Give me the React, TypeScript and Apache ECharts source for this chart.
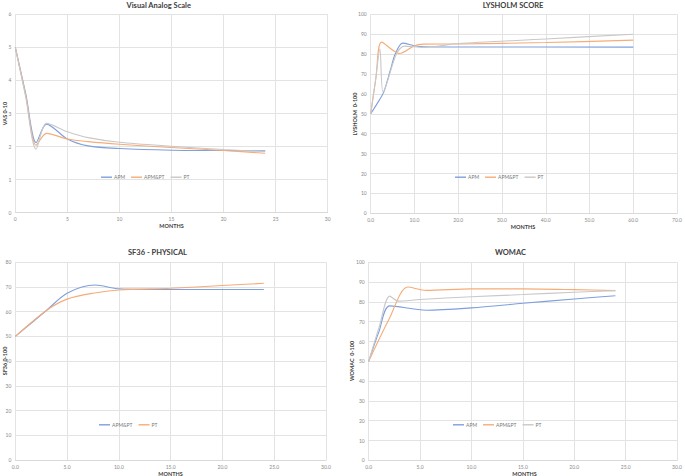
import React, { useEffect, useRef } from "react";
import * as echarts from "echarts";

// ---------- data ----------
const vasApm = [[0, 5], [1, 3.6], [2, 2.12], [3, 2.68], [5, 2.23], [7, 2.02], [10, 1.94], [15, 1.89], [20, 1.88], [24, 1.87]];
const vasApmPt = [[0, 5], [1, 3.55], [2, 2.04], [3, 2.4], [5, 2.23], [7, 2.15], [10, 2.07], [15, 1.97], [20, 1.88], [24, 1.8]];
const vasPt = [[0, 5], [1, 3.5], [2, 1.92], [3, 2.7], [5, 2.45], [7, 2.27], [10, 2.13], [15, 2.01], [20, 1.91], [24, 1.85]];

const lysApm = [[0, 50], [2, 57], [3, 61], [4.5, 72], [5.6, 80], [7.3, 85.5], [10, 84.2], [12, 83.7], [20, 83.6], [60, 83.5]];
const lysApmPt = [[0, 50], [1.2, 68], [2.5, 86], [6.6, 80.3], [10, 84.2], [12, 85], [20, 85.1], [40, 85.8], [60, 87]];
const lysPt = [[0, 50], [1.1, 67], [2.1, 82.5], [2.85, 61], [5.9, 80.3], [7.7, 84], [12, 83.3], [20, 85.3], [40, 87.6], [60, 90]];

const sfApmPt = [[0, 50], [3, 60.5], [5, 67.5], [7.7, 70.8], [10, 69.3], [15, 69], [20, 69], [24, 69]];
const sfPt = [[0, 50], [3, 60.5], [5, 65.1], [7.5, 67.5], [10, 68.8], [15, 69.5], [20, 70.6], [24, 71.5]];

const womApm = [[0, 50], [1, 65], [2.05, 78], [5.6, 75.8], [10, 77], [15, 79.3], [20, 81.5], [24, 83.1]];
const womApmPt = [[0, 50], [2, 71.5], [3.8, 87.5], [5.6, 85.8], [10, 86.6], [15, 86.6], [20, 86.2], [24, 85.7]];
const womPt = [[0, 50], [1, 67], [2.05, 82.9], [2.9, 80.4], [5, 81.2], [10, 82.6], [15, 83.7], [20, 84.9], [24, 85.7]];

// ---------- tick labels ----------
const vasXTicks = ["0", "5", "10", "15", "20", "25", "30"];
const vasYTicks = ["0", "1", "2", "3", "4", "5", "6"];
const lysXTicks = ["0.0", "10.0", "20.0", "30.0", "40.0", "50.0", "60.0", "70.0"];
const lysYTicks = ["0", "10", "20", "30", "40", "50", "60", "70", "80", "90", "100"];
const sfXTicks = ["0.0", "5.0", "10.0", "15.0", "20.0", "25.0", "30.0"];
const sfYTicks = ["0", "10", "20", "30", "40", "50", "60", "70", "80"];
const womXTicks = ["0.0", "5.0", "10.0", "15.0", "20.0", "25.0", "30.0"];
const womYTicks = ["0", "10", "20", "30", "40", "50", "60", "70", "80", "90", "100"];

const BLUE = "#7F9FDD";
const ORANGE = "#F5AC78";
const GRAY = "#C8C8C8";
const FONT = "Lato, 'Open Sans', sans-serif";
const GRID_C = "#e3e3e3";
const LABEL_C = "#8a8a8a";
const TITLE_C = "#404040";

function makeOption(cfg: any) {
  const series = cfg.series.map((s: any) => ({
    type: "line",
    name: s.name,
    data: s.data,
    smooth: 0.3,
    showSymbol: false,
    symbol: "none",
    lineStyle: { color: s.color, width: 1.1 },
    itemStyle: { color: s.color },
  }));
  return {
    animation: false,
    textStyle: { fontFamily: FONT },
    grid: { left: cfg.grid[0], top: cfg.grid[1], width: cfg.grid[2], height: cfg.grid[3], containLabel: false },
    xAxis: {
      type: "value",
      min: 0,
      max: cfg.xMax,
      interval: cfg.xInt,
      axisLine: { show: true, lineStyle: { color: "#d9d9d9" } },
      axisTick: { show: false },
      splitLine: { show: true, lineStyle: { color: GRID_C, width: 1 } },
      axisLabel: {
        fontSize: 5,
        color: LABEL_C,
        margin: 4,
        fontFamily: FONT,
        showMaxLabel: true,
        formatter: (v: number) => cfg.xTicks[Math.round(v / cfg.xInt)] ?? "",
      },
    },
    yAxis: {
      type: "value",
      min: 0,
      max: cfg.yMax,
      interval: cfg.yInt,
      axisLine: { show: false },
      axisTick: { show: false },
      splitLine: { show: true, lineStyle: { color: GRID_C, width: 1 } },
      axisLabel: {
        fontSize: 5,
        color: LABEL_C,
        margin: 4,
        fontFamily: FONT,
        formatter: (v: number) => cfg.yTicks[Math.round(v / cfg.yInt)] ?? "",
      },
    },
    legend: {
      left: cfg.legend[0],
      top: cfg.legend[1] - 3,
      icon: "rect",
      itemWidth: 11,
      itemHeight: 1.4,
      itemGap: 6,
      textStyle: { fontSize: 5, color: "#7a7a7a", fontFamily: FONT, padding: [0, 0, 0, -3] },
      data: cfg.series.map((s: any) => s.name),
    },
    graphic: [
      {
        type: "text",
        x: cfg.title[1],
        y: cfg.title[2],
        style: { text: cfg.title[0], fontSize: 7.5, fontWeight: "bold", fill: TITLE_C, fontFamily: FONT, textAlign: "center", textVerticalAlign: "middle" },
      },
      {
        type: "text",
        x: cfg.xName[0],
        y: cfg.xName[1],
        style: { text: "MONTHS", fontSize: 5.5, fontWeight: "bold", fill: TITLE_C, fontFamily: FONT, textAlign: "center", textVerticalAlign: "middle" },
      },
      {
        type: "text",
        x: cfg.yName[1],
        y: cfg.yName[2],
        rotation: Math.PI / 2,
        style: { text: cfg.yName[0], fontSize: 5.5, fontWeight: "bold", fill: TITLE_C, fontFamily: FONT, textAlign: "center", textVerticalAlign: "middle" },
      },
    ],
    series,
  };
}

const opt1 = makeOption({
  grid: [15.3, 14.3, 312.4, 198.4],
  xMax: 30, xInt: 5, xTicks: vasXTicks,
  yMax: 6, yInt: 1, yTicks: vasYTicks,
  legend: [96, 172.7],
  title: ["Visual Analog Scale", 158.7, 5],
  xName: [171.5, 226],
  yName: ["VAS 0-10", 5, 113.5],
  series: [
    { name: "APM", data: vasApm, color: BLUE },
    { name: "APM&PT", data: vasApmPt, color: ORANGE },
    { name: "PT", data: vasPt, color: GRAY },
  ],
});

const opt2 = makeOption({
  grid: [30.7, 14.3, 311, 199],
  xMax: 70, xInt: 10, xTicks: lysXTicks,
  yMax: 100, yInt: 10, yTicks: lysYTicks,
  legend: [110, 172.7],
  title: ["LYSHOLM SCORE", 173, 5],
  xName: [183, 226.7],
  yName: ["LYSHOLM  0-100", 15, 114],
  series: [
    { name: "APM", data: lysApm, color: BLUE },
    { name: "APM&PT", data: lysApmPt, color: ORANGE },
    { name: "PT", data: lysPt, color: GRAY },
  ],
});

const opt3 = makeOption({
  grid: [15.3, 24.3, 310.7, 197.7],
  xMax: 30, xInt: 5, xTicks: sfXTicks,
  yMax: 80, yInt: 10, yTicks: sfYTicks,
  legend: [94, 182.3],
  title: ["SF36 - PHYSICAL", 157.5, 14.3],
  xName: [170.5, 236],
  yName: ["SF36 0-100", 5, 123],
  series: [
    { name: "APM&PT", data: sfApmPt, color: BLUE },
    { name: "PT", data: sfPt, color: ORANGE },
  ],
});

const opt4 = makeOption({
  grid: [28.7, 24.3, 311.3, 198],
  xMax: 30, xInt: 5, xTicks: womXTicks,
  yMax: 100, yInt: 10, yTicks: womYTicks,
  legend: [108, 182.3],
  title: ["WOMAC", 170.5, 14.3],
  xName: [184.5, 236],
  yName: ["WOMAC  0-100", 12, 123],
  series: [
    { name: "APM", data: womApm, color: BLUE },
    { name: "APM&PT", data: womApmPt, color: ORANGE },
    { name: "PT", data: womPt, color: GRAY },
  ],
});

export default function App() {
  const r1 = useRef<HTMLDivElement>(null);
  const r2 = useRef<HTMLDivElement>(null);
  const r3 = useRef<HTMLDivElement>(null);
  const r4 = useRef<HTMLDivElement>(null);

  useEffect(() => {
    const pairs: [any, any][] = [[r1, opt1], [r2, opt2], [r3, opt3], [r4, opt4]];
    const charts = pairs.map(([r, o]) => {
      const c = echarts.init(r.current, null, { renderer: "svg" });
      c.setOption(o);
      return c;
    });
    return () => charts.forEach((c) => c.dispose());
  }, []);

  return (
    <div style={{ position: "fixed", left: 0, top: 0, width: 685, height: 476, background: "#fff" }}>
      <div ref={r1} style={{ position: "absolute", left: 0, top: 0, width: 340, height: 238 }} />
      <div ref={r2} style={{ position: "absolute", left: 340, top: 0, width: 345, height: 238 }} />
      <div ref={r3} style={{ position: "absolute", left: 0, top: 238, width: 340, height: 238 }} />
      <div ref={r4} style={{ position: "absolute", left: 340, top: 238, width: 345, height: 238 }} />
    </div>
  );
}
